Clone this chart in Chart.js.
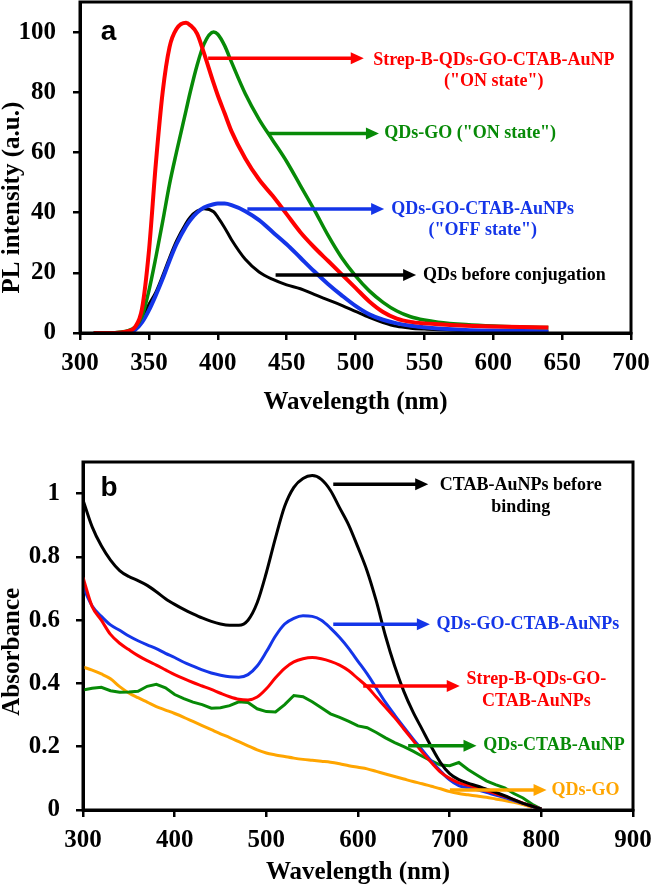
<!DOCTYPE html>
<html>
<head>
<meta charset="utf-8">
<title>PL and absorbance spectra</title>
<script src="https://cdn.jsdelivr.net/npm/chart.js@4.4.0/dist/chart.umd.min.js"></script>
<style>
    body { margin: 0; background: #fff; }
    canvas { position: absolute; left: 0; }
    #chart-a { top: 0; }
    #chart-b { top: 440px; }
</style>
</head>
<body>
<canvas id="chart-a" width="653" height="420"></canvas>
<canvas id="chart-b" width="653" height="450"></canvas>
<script>
// ---- Panel a: PL spectra ----
const wavelengthA = [310, 320, 330, 335, 340, 345, 350, 355, 360, 365, 370, 377, 380, 385, 390, 397, 400, 405, 410,
    420, 430, 440, 450, 460, 470, 480, 490, 500, 510, 520, 530, 540, 550, 560, 580, 600, 620, 640];
const strepOnA = [0, 0, 0.2, 0.6, 2, 8, 27, 56, 80, 95, 101, 103.1, 102.3, 99.5, 93, 83, 79, 73, 67,
    58, 51, 45.5, 39.5, 33.5, 28.5, 24, 19.5, 15, 10.5, 7, 4.8, 3.7, 3.2, 2.9, 2.4, 2.2, 2, 1.8];
const qdsGoOnA = [0, 0, 0.3, 0.8, 2, 5.5, 14, 25, 37, 49.5, 60, 74, 80, 89, 96, 100, 99.3, 95.5, 90,
    79.5, 71, 64, 57, 49, 41, 32.5, 25, 19, 14, 10.2, 7.3, 5.4, 4.3, 3.6, 2.8, 2.3, 2, 1.8];
const offStateA = [0, 0, 0, 0.2, 1, 3.5, 7.5, 12.5, 18, 24, 29.5, 35.5, 37.5, 40, 41.7, 42.8, 43, 43, 42.5,
    40.5, 37.5, 33.5, 29.5, 25, 20.5, 16.3, 12.5, 9, 6.2, 4.4, 3.2, 2.4, 1.9, 1.5, 1, 0.8, 0.7, 0.6];
const qdsBeforeA = [0, 0, 0, 0.3, 1.8, 5, 9.5, 13.5, 19, 25, 30.5, 36.5, 38.5, 40.5, 41.3, 40.3, 38.5, 35, 31,
    24.5, 20.3, 17.8, 16, 14.7, 12.8, 11, 9.2, 7.2, 5.2, 3.5, 2.2, 1.6, 1.3, 1.1, 0.8, 0.7, 0.6, 0.6];
const xTicksA = { min: 300, max: 700, step: 50 };
const yTicksA = { min: 0, max: 110, step: 20, top: 100 };

// ---- Panel b: absorbance spectra ----
const wavelengthB = [300, 310, 320, 330, 340, 350, 360, 370, 380, 390, 400, 410, 420, 430, 440, 450, 460, 470, 480, 490,
    500, 510, 520, 530, 540, 550, 560, 570, 580, 590, 600, 610, 620, 630, 640, 650, 660, 670, 680, 690,
    700, 710, 720, 730, 740, 750, 760, 770, 780, 790, 800];
const ctabAuB = [0.98, 0.895, 0.835, 0.79, 0.757, 0.738, 0.725, 0.71, 0.69, 0.668, 0.65, 0.634, 0.62, 0.607, 0.596, 0.588, 0.584, 0.584, 0.6, 0.655,
    0.75, 0.86, 0.96, 1.02, 1.048, 1.057, 1.045, 1.01, 0.955, 0.9, 0.83, 0.755, 0.66, 0.55, 0.455, 0.375, 0.31, 0.255, 0.2, 0.15,
    0.115, 0.096, 0.085, 0.076, 0.066, 0.056, 0.045, 0.033, 0.021, 0.012, 0.003];
const qdsGoAuB = [0.705, 0.645, 0.612, 0.585, 0.568, 0.55, 0.535, 0.522, 0.51, 0.495, 0.482, 0.467, 0.455, 0.443, 0.433, 0.426, 0.421, 0.42, 0.428, 0.455,
    0.5, 0.55, 0.588, 0.606, 0.614, 0.612, 0.6, 0.575, 0.545, 0.51, 0.47, 0.43, 0.385, 0.34, 0.3, 0.262, 0.225, 0.19, 0.155, 0.123,
    0.095, 0.077, 0.07, 0.064, 0.056, 0.047, 0.039, 0.03, 0.021, 0.012, 0.003];
const strepB = [0.735, 0.643, 0.6, 0.555, 0.527, 0.507, 0.488, 0.472, 0.458, 0.443, 0.428, 0.415, 0.403, 0.392, 0.381, 0.369, 0.358, 0.35, 0.348, 0.357,
    0.383, 0.418, 0.448, 0.468, 0.478, 0.482, 0.478, 0.47, 0.458, 0.44, 0.415, 0.39, 0.357, 0.325, 0.292, 0.256, 0.22, 0.183, 0.15, 0.12,
    0.1, 0.086, 0.078, 0.07, 0.061, 0.052, 0.043, 0.033, 0.022, 0.012, 0.003];
const qdsCtabB = [0.379, 0.385, 0.388, 0.377, 0.372, 0.373, 0.375, 0.391, 0.397, 0.386, 0.365, 0.352, 0.341, 0.333, 0.322, 0.323, 0.33, 0.342, 0.34, 0.32,
    0.311, 0.31, 0.333, 0.362, 0.358, 0.342, 0.323, 0.304, 0.293, 0.28, 0.266, 0.26, 0.245, 0.228, 0.213, 0.2, 0.186, 0.17, 0.155, 0.142,
    0.14, 0.15, 0.128, 0.11, 0.092, 0.08, 0.07, 0.052, 0.038, 0.018, 0.003];
const qdsGoB = [0.452, 0.442, 0.43, 0.415, 0.39, 0.37, 0.355, 0.341, 0.327, 0.316, 0.305, 0.293, 0.28, 0.267, 0.254, 0.241, 0.229, 0.216, 0.203, 0.19,
    0.18, 0.174, 0.169, 0.164, 0.16, 0.157, 0.154, 0.151, 0.146, 0.14, 0.135, 0.13, 0.122, 0.114, 0.106, 0.098, 0.09, 0.083, 0.075, 0.067,
    0.058, 0.052, 0.048, 0.044, 0.04, 0.035, 0.03, 0.024, 0.017, 0.009, null];
const xTicksB = { min: 300, max: 900, step: 100 };
const yTicksB = { min: 0, max: 1.1, step: 0.2, top: 1 };

const RED = '#ff0000', GREEN = '#078a07', BLUE = '#1435e8', BLACK = '#000000', ORANGE = '#ffa500';
const SERIF = "'Liberation Serif', 'Times New Roman', serif";

// Arrow labels, positioned in data units (wavelength, value)
const arrowsA = [
    { x0: 393, x1: 506, y: 91.3, tx: 512.8, ty: 90.7, color: RED, lines: ['Strep-B-QDs-GO-CTAB-AuNP', '("ON state")'] },
    { x0: 437, x1: 517, y: 66.3, tx: 520.8, ty: 66.3, color: GREEN, lines: ['QDs-GO ("ON state")'] },
    { x0: 421.5, x1: 520.8, y: 41.2, tx: 526, ty: 41.2, color: BLUE, lines: ['QDs-GO-CTAB-AuNPs', '("OFF state")'] },
    { x0: 442, x1: 544, y: 19.3, tx: 549, ty: 19.3, color: BLACK, lines: ['QDs before conjugation'] }
];
const arrowsB = [
    { x0: 573, x1: 676.6, y: 1.03, tx: 689.3, ty: 1.025, color: BLACK, lines: ['CTAB-AuNPs before', 'binding'] },
    { x0: 573, x1: 678.4, y: 0.587, tx: 685.7, ty: 0.587, color: BLUE, lines: ['QDs-GO-CTAB-AuNPs'] },
    { x0: 605.7, x1: 711, y: 0.392, tx: 718.4, ty: 0.412, color: RED, lines: ['Strep-B-QDs-GO-', 'CTAB-AuNPs'] },
    { x0: 654.7, x1: 729.3, y: 0.203, tx: 736.5, ty: 0.203, color: GREEN, lines: ['QDs-CTAB-AuNP'] },
    { x0: 700.2, x1: 805.7, y: 0.063, tx: 811, ty: 0.063, color: ORANGE, lines: ['QDs-GO'] }
];

document.addEventListener('DOMContentLoaded', function() {
    initPanelA();
    initPanelB();
});

// Pair x values with y values for a linear x axis
function toPoints(xs, ys) {
    return xs.map((x, i) => ({ x: x, y: ys[i] }));
}

function lineSet(xs, ys, color, width, smooth) {
    return {
        data: toPoints(xs, ys),
        borderColor: color,
        borderWidth: width,
        pointRadius: 0,
        fill: false,
        tension: 0,
        cubicInterpolationMode: smooth ? 'monotone' : 'default'
    };
}

// Frame, y title, panel letter and arrow labels drawn on top of the chart
function overlayPlugin(letter, yTitle, arrows) {
    return {
        id: 'overlay',
        afterDraw(chart) {
            const ctx = chart.ctx;
            const area = chart.chartArea;
            const xs = chart.scales.x, ys = chart.scales.y;
            ctx.save();
            ctx.strokeStyle = '#000';
            ctx.lineWidth = 3;
            ctx.strokeRect(area.left, area.top, area.right - area.left, area.bottom - area.top);

            // y title sits a little below the middle of the axis in the reference
            ctx.save();
            ctx.translate(ys.left + 12.5, ys.getPixelForValue(yTitle.at));
            ctx.rotate(-Math.PI / 2);
            ctx.fillStyle = '#000';
            ctx.font = 'bold 25px ' + SERIF;
            ctx.textAlign = 'center';
            ctx.textBaseline = 'middle';
            ctx.fillText(yTitle.text, 0, 0);
            ctx.restore();

            ctx.fillStyle = '#000';
            ctx.font = "bold 28px 'Liberation Sans', Arial, sans-serif";
            ctx.textAlign = 'center';
            ctx.textBaseline = 'alphabetic';
            ctx.fillText(letter.text, xs.getPixelForValue(letter.x), ys.getPixelForValue(letter.y));

            arrows.forEach(a => {
                const px0 = xs.getPixelForValue(a.x0);
                const px1 = xs.getPixelForValue(a.x1);
                const py = ys.getPixelForValue(a.y);
                ctx.strokeStyle = a.color;
                ctx.fillStyle = a.color;
                ctx.lineWidth = 3.5;
                ctx.beginPath();
                ctx.moveTo(px0, py);
                ctx.lineTo(px1 - 10, py);
                ctx.stroke();
                ctx.beginPath();
                ctx.moveTo(px1, py);
                ctx.lineTo(px1 - 13, py - 6);
                ctx.lineTo(px1 - 13, py + 6);
                ctx.closePath();
                ctx.fill();

                ctx.font = 'bold 18px ' + SERIF;
                ctx.textBaseline = 'middle';
                ctx.textAlign = 'center';
                const w = Math.max(...a.lines.map(t => ctx.measureText(t).width));
                const cx = xs.getPixelForValue(a.tx) + w / 2;
                const ty = ys.getPixelForValue(a.ty);
                a.lines.forEach((t, i) => ctx.fillText(t, cx, ty + i * 21.5));
            });
            ctx.restore();
        }
    };
}

function buildOptions(xt, yt, sizes, fmt) {
    const tickFont = { family: SERIF, size: 25, weight: 'bold' };
    return {
        responsive: false,
        animation: false,
        devicePixelRatio: 1,
        layout: { padding: sizes.padding },
        plugins: { legend: { display: false }, tooltip: { enabled: false } },
        scales: {
            x: {
                type: 'linear',
                min: xt.min,
                max: xt.max,
                ticks: { stepSize: xt.step, color: '#000', font: tickFont, padding: 9, maxRotation: 0, autoSkip: false },
                grid: { drawOnChartArea: false, tickLength: 7, color: '#000', lineWidth: 2.5 },
                border: { color: '#000', width: 3 },
                title: { display: true, text: 'Wavelength (nm)', color: '#000', font: tickFont, padding: { top: 0, bottom: 2 } },
                afterFit: s => { s.height = sizes.xHeight; s.paddingLeft = 0; s.paddingRight = 0; }
            },
            y: {
                type: 'linear',
                min: yt.min,
                max: yt.max,
                ticks: { stepSize: yt.step, color: '#000', font: tickFont, padding: sizes.yPad, autoSkip: false, callback: fmt },
                grid: { drawOnChartArea: false, tickLength: 7, color: '#000', lineWidth: 2.5 },
                border: { color: '#000', width: 3 },
                afterBuildTicks: s => { s.ticks = s.ticks.filter(t => t.value <= yt.top + 1e-6); },
                // keep the plot box where the reference has it
                afterFit: s => { s.width = sizes.yWidth; s.paddingTop = 0; s.paddingBottom = 0; }
            }
        }
    };
}

function initPanelA() {
    const canvas = document.getElementById('chart-a');
    new Chart(canvas, {
        type: 'line',
        data: {
            datasets: [
                lineSet(wavelengthA, strepOnA, RED, 4, true),
                lineSet(wavelengthA, qdsGoOnA, GREEN, 3.5, true),
                lineSet(wavelengthA, offStateA, BLUE, 4, true),
                lineSet(wavelengthA, qdsBeforeA, BLACK, 3, true)
            ]
        },
        options: buildOptions(xTicksA, yTicksA,
            { padding: { top: 2, right: 22, left: 0, bottom: 0 }, xHeight: 87, yWidth: 80, yPad: 17 },
            v => String(v)),
        plugins: [overlayPlugin({ text: 'a', x: 320.8, y: 97.3 }, { text: 'PL intensity (a.u.)', at: 45 }, arrowsA)]
    });
}

function initPanelB() {
    const canvas = document.getElementById('chart-b');
    new Chart(canvas, {
        type: 'line',
        data: {
            datasets: [
                lineSet(wavelengthB, ctabAuB, BLACK, 3, true),
                lineSet(wavelengthB, strepB, RED, 3, true),
                lineSet(wavelengthB, qdsGoAuB, BLUE, 3, true),
                lineSet(wavelengthB, qdsCtabB, GREEN, 3, false),
                lineSet(wavelengthB, qdsGoB, ORANGE, 3, true)
            ]
        },
        options: buildOptions(xTicksB, yTicksB,
            { padding: { top: 22, right: 20, left: 0, bottom: 0 }, xHeight: 80, yWidth: 83, yPad: 16 },
            v => String(+Number(v).toFixed(1))),
        plugins: [overlayPlugin({ text: 'b', x: 328.4, y: 0.994 }, { text: 'Absorbance', at: 0.5 }, arrowsB)]
    });
}
</script>
</body>
</html>
